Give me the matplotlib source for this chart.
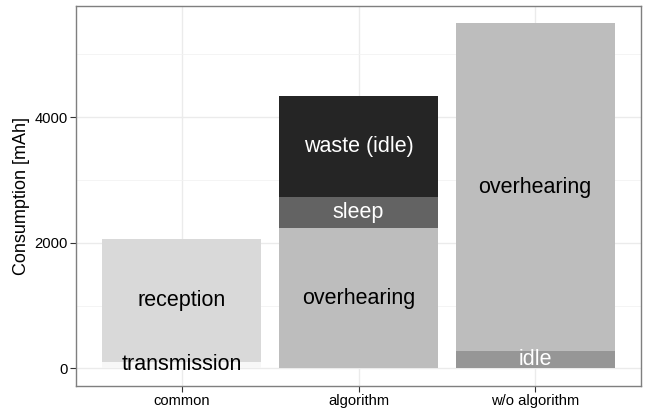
import numpy as np
import matplotlib
matplotlib.use('Agg')
import matplotlib.pyplot as plt

# ------------------------------------------------------------
# Donnees (mAh)
categories = ['common', 'algorithm', 'w/o algorithm']

# segments empiles de bas en haut pour chaque barre
common_labels = ['transmission', 'reception']
common_values = [110, 1945]

algo_labels = ['overhearing', 'sleep', 'waste (idle)']
algo_values = [2230, 495, 1605]

wo_labels = ['idle', 'overhearing']
wo_values = [270, 5230]

# palette Greys (ColorBrewer)
colors = {'transmission': '#F7F7F7', 'reception': '#D9D9D9',
          'overhearing': '#BDBDBD', 'idle': '#969696',
          'sleep': '#636363', 'waste (idle)': '#252525'}
textcol = {'transmission': 'black', 'reception': 'black',
           'overhearing': 'black', 'idle': 'white',
           'sleep': 'white', 'waste (idle)': 'white'}

plt.rcParams['font.family'] = ['Liberation Sans', 'DejaVu Sans']

fig = plt.figure(figsize=(6.5, 4.09), dpi=100)
ax = fig.add_axes([76/650, 1-385.7/409, (641-76)/650, (385.7-5.7)/409])

x = np.arange(1, len(categories)+1)
groups = [(common_labels, common_values),
          (algo_labels, algo_values),
          (wo_labels, wo_values)]

for xi, (labs, vals) in zip(x, groups):
    bottom = 0
    for lab, v in zip(labs, vals):
        ax.bar(xi, v, bottom=bottom, width=0.9, color=colors[lab],
               linewidth=0, zorder=2)
        ax.text(xi, bottom + v/2., lab, ha='center', va='center',
                fontsize=15.5, color=textcol[lab], zorder=3)
        bottom += v

ymax = max(sum(v) for _, v in groups)
ax.set_ylim(-0.05*ymax, 1.05*ymax)
ax.set_xlim(0.4, len(categories)+0.6)

ax.set_xticks(x)
ax.set_xticklabels(categories, fontsize=10.6)
ax.set_yticks([0, 2000, 4000])
ax.set_yticks([1000, 3000, 5000], minor=True)
ax.tick_params(axis='y', which='minor', length=0)
ax.tick_params(which='major', length=4.3, width=0.8, color='#333333',
               labelsize=10.6, labelcolor='black', pad=1.5)
ax.set_ylabel('Consumption [mAh]', fontsize=13, labelpad=3)

ax.grid(True, which='major', color='#EBEBEB', linewidth=1.0, zorder=0)
ax.grid(True, which='minor', axis='y', color='#F2F2F2', linewidth=0.6, zorder=0)
ax.set_axisbelow(True)
for s in ax.spines.values():
    s.set_color('#7F7F7F')
    s.set_linewidth(1.0)

fig.savefig('out.png', dpi=100)
